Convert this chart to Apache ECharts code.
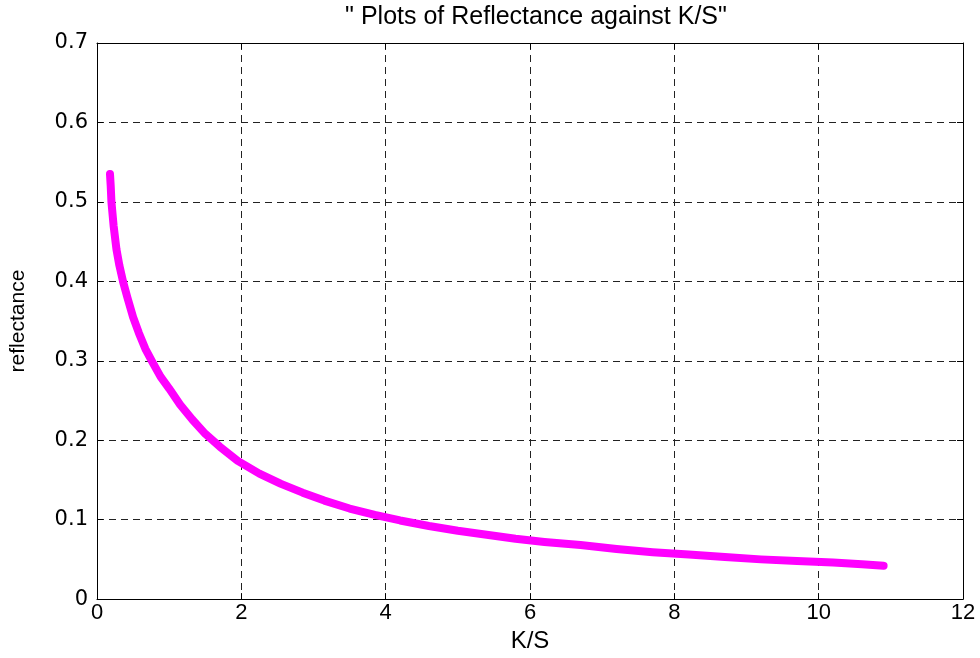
<!DOCTYPE html>
<html>
<head>
<meta charset="utf-8">
<script src="https://cdn.jsdelivr.net/npm/echarts@6/dist/echarts.min.js"></script>
<style>
  html, body { margin: 0; padding: 0; background: #fff; }
  #chart { width: 980px; height: 658px; }
</style>
</head>
<body>
<div id="chart"></div>
<script>
// K/S values and the matching reflectance readings
const ksValues = [
  0.18, 0.19, 0.20, 0.23, 0.27, 0.31, 0.36, 0.42, 0.50, 0.58,
  0.67, 0.77, 0.88, 1.00, 1.15, 1.32, 1.50, 1.70, 1.95, 2.25,
  2.55, 2.85, 3.15, 3.50, 3.85, 4.20, 4.60, 5.00, 5.40, 5.80,
  6.20, 6.70, 7.20, 7.70, 8.20, 8.70, 9.20, 9.70, 10.20, 10.60, 10.90
];
const reflectance = [
  0.535, 0.520, 0.500, 0.470, 0.440, 0.420, 0.400, 0.380, 0.355, 0.335,
  0.315, 0.298, 0.280, 0.265, 0.245, 0.226, 0.208, 0.192, 0.174, 0.158,
  0.145, 0.134, 0.124, 0.114, 0.106, 0.099, 0.092, 0.086, 0.081, 0.076,
  0.072, 0.068, 0.063, 0.059, 0.056, 0.053, 0.050, 0.048, 0.046, 0.044, 0.042
];
const xTicks = [0, 2, 4, 6, 8, 10, 12];
const yTicks = [0, 0.1, 0.2, 0.3, 0.4, 0.5, 0.6, 0.7];

const titleText = '" Plots of Reflectance against K/S"';
const xName = 'K/S';
const yName = 'reflectance';

const points = ksValues.map((k, i) => [k, reflectance[i]]);

const sans = '"Liberation Sans", Arial, sans-serif';
const wide = '"DejaVu Sans", sans-serif';

const gridLine = { show: true, lineStyle: { color: '#222', width: 1, type: [7, 5] } };
const edge = { show: true, onZero: false, lineStyle: { color: '#000', width: 1 } };
const tick = { show: true, inside: true, length: 6, lineStyle: { color: '#000' } };

const chart = echarts.init(document.getElementById('chart'), null, { renderer: 'canvas' });
chart.setOption({
  backgroundColor: '#ffffff',
  animation: false,
  title: {
    text: titleText,
    left: 531, top: 0, textAlign: 'center',
    textStyle: { fontFamily: sans, fontSize: 25, fontWeight: 'normal', color: '#000' }
  },
  grid: { left: 97, right: 17, top: 43, bottom: 58, containLabel: false },
  xAxis: [
    {
      type: 'value', position: 'bottom',
      min: xTicks[0], max: xTicks[xTicks.length - 1], interval: 2,
      name: xName, nameLocation: 'middle', nameGap: 25,
      nameTextStyle: { fontFamily: sans, fontSize: 24, color: '#000' },
      axisLine: edge, axisTick: tick, splitLine: gridLine,
      axisLabel: { fontFamily: sans, fontSize: 22, color: '#000', margin: 3 }
    },
    {
      type: 'value', position: 'top',
      min: xTicks[0], max: xTicks[xTicks.length - 1], interval: 2,
      axisLine: edge, axisTick: tick, splitLine: { show: false },
      axisLabel: { show: false }
    }
  ],
  yAxis: [
    {
      type: 'value', position: 'left',
      min: yTicks[0], max: yTicks[yTicks.length - 1], interval: 0.1,
      name: yName, nameLocation: 'middle', nameGap: 68, nameRotate: 90,
      nameTextStyle: { fontFamily: sans, fontSize: 21, color: '#000' },
      axisLine: edge, axisTick: tick, splitLine: gridLine,
      axisLabel: { fontFamily: wide, fontSize: 21, color: '#000', margin: 9,
        formatter: v => (Math.abs(v) < 1e-9 ? '0' : v.toFixed(1)) }
    },
    {
      type: 'value', position: 'right',
      min: yTicks[0], max: yTicks[yTicks.length - 1], interval: 0.1,
      axisLine: edge, axisTick: tick, splitLine: { show: false },
      axisLabel: { show: false }
    }
  ],
  series: [{
    type: 'line',
    data: points,
    showSymbol: false,
    smooth: false,
    lineStyle: { color: '#ff00ff', width: 8, cap: 'round', join: 'round' },
    itemStyle: { color: '#ff00ff' }
  }]
});
</script>
</body>
</html>
